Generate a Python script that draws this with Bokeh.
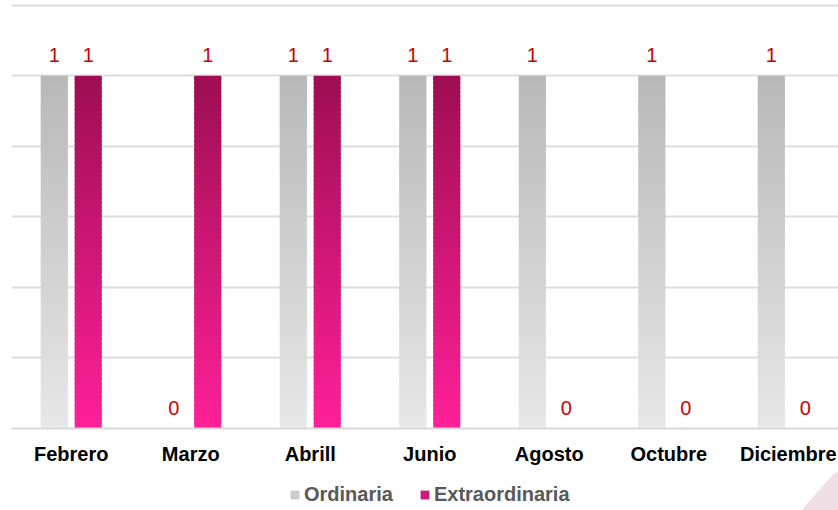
import numpy as np
from bokeh.plotting import figure
from bokeh.layouts import column
from bokeh.models import (ColumnDataSource, FixedTicker, Legend, LegendItem, Range1d)
from bokeh.core.properties import value
from bokeh.embed import file_html
from bokeh.resources import INLINE

months = ["Febrero", "Marzo", "Abrill", "Junio", "Agosto", "Octubre", "Diciembre"]
ordinaria = [1, 0, 1, 1, 1, 1, 1]
extraordinaria = [1, 1, 1, 1, 0, 0, 0]
series_names = ["Ordinaria", "Extraordinaria"]

FONT = "Liberation Sans"
GRAY_TOP, GRAY_BOT = (184, 184, 184), (232, 232, 232)
MAG_TOP, MAG_BOT = (158, 14, 82), (255, 32, 152)

W = 838
p = figure(width=W, height=472, output_backend="svg", toolbar_location=None,
           x_range=Range1d(0, 6.92), y_range=Range1d(0, 1.205),
           min_border_left=11, min_border_right=0, min_border_top=3, min_border_bottom=44)
p.outline_line_color = None
p.background_fill_color = "white"
p.border_fill_color = "white"

xc = np.arange(len(months)) + 0.5
bw = 0.226
off = 0.142

def mix(c1, c2, t):
    return "#%02x%02x%02x" % tuple(int(round(a + (b - a) * t)) for a, b in zip(c1, c2))

def gradient_bars(fig, xs, vals, top, bot, width, n=80):
    L, R, B, T, C = [], [], [], [], []
    for x, v in zip(xs, vals):
        if v <= 0:
            continue
        edges = np.linspace(0, v, n + 1)
        for i in range(n):
            t = 1 - (i + 0.5) / n  # 0 at top, 1 at bottom
            L.append(x - width / 2); R.append(x + width / 2)
            B.append(edges[i])
            T.append(edges[i + 1] + (v / n) * 0.6 if i < n - 1 else edges[i + 1])
            C.append(mix(top, bot, t))
    src = ColumnDataSource(dict(left=L, right=R, bottom=B, top=T, color=C))
    return fig.quad(left="left", right="right", bottom="bottom", top="top", fill_color="color",
                    line_color=None, source=src)

gradient_bars(p, xc - off, ordinaria, GRAY_TOP, GRAY_BOT, bw)
gradient_bars(p, xc + off, extraordinaria, MAG_TOP, MAG_BOT, bw)

# value labels
lab = ColumnDataSource(dict(
    x=list(xc - off) + list(xc + off),
    y=ordinaria + extraordinaria,
    t=[str(v) for v in ordinaria + extraordinaria]))
p.text(x="x", y="y", text="t", source=lab, text_align="center", text_baseline="middle",
       y_offset=-21, text_color="#cc0000", text_font=value(FONT), text_font_size="20px")

# axes
p.yaxis.visible = False
p.xaxis.ticker = FixedTicker(ticks=list(xc))
p.xaxis.major_label_overrides = {float(x): m for x, m in zip(xc, months)}
p.xaxis.major_label_text_font = FONT
p.xaxis.major_label_text_font_style = "bold"
p.xaxis.major_label_text_font_size = "20px"
p.xaxis.major_label_text_color = "#000000"
p.xaxis.major_label_standoff = 8
p.xaxis.major_tick_line_color = None
p.xaxis.minor_tick_line_color = None
p.xaxis.axis_line_color = "#d9d9d9"
p.xaxis.axis_line_width = 2

p.xgrid.visible = False
p.ygrid.ticker = FixedTicker(ticks=list(np.round(np.arange(0, 1.21, 0.2), 2)))
p.ygrid.grid_line_color = "#dedede"
p.ygrid.grid_line_width = 2

# legend strip (pixel coordinates)
LH = 38
q = figure(width=W, height=LH, output_backend="svg", toolbar_location=None,
           x_range=Range1d(0, W), y_range=Range1d(0, LH),
           min_border=0, min_border_left=0, min_border_right=0, min_border_top=0, min_border_bottom=0)
q.axis.visible = False
q.grid.visible = False
q.outline_line_color = None
q.background_fill_color = "white"
q.border_fill_color = "white"

# decorative corner triangle
q.patch(x=[W - 38, W, W], y=[0, 42, 0], fill_color="#f2e0e7", line_color=None)

r1 = q.quad(left=[-60], right=[-50], bottom=[-60], top=[-50], fill_color="#cbcbcb", line_color=None)
r2 = q.quad(left=[-60], right=[-50], bottom=[-60], top=[-50], fill_color="#d1187b", line_color=None)
legend = Legend(items=[LegendItem(label=series_names[0], renderers=[r1]),
                       LegendItem(label=series_names[1], renderers=[r2])],
                orientation="horizontal", location=(278, 4),
                label_text_font=FONT, label_text_font_style="bold",
                label_text_color="#595959", label_text_font_size="20px",
                glyph_width=11, glyph_height=11, spacing=26, label_standoff=4,
                padding=0, margin=0, label_height=20,
                border_line_color=None, background_fill_alpha=0)
q.add_layout(legend)

layout = column(p, q, spacing=0)
open("out.html", "w").write(file_html(layout, INLINE))
